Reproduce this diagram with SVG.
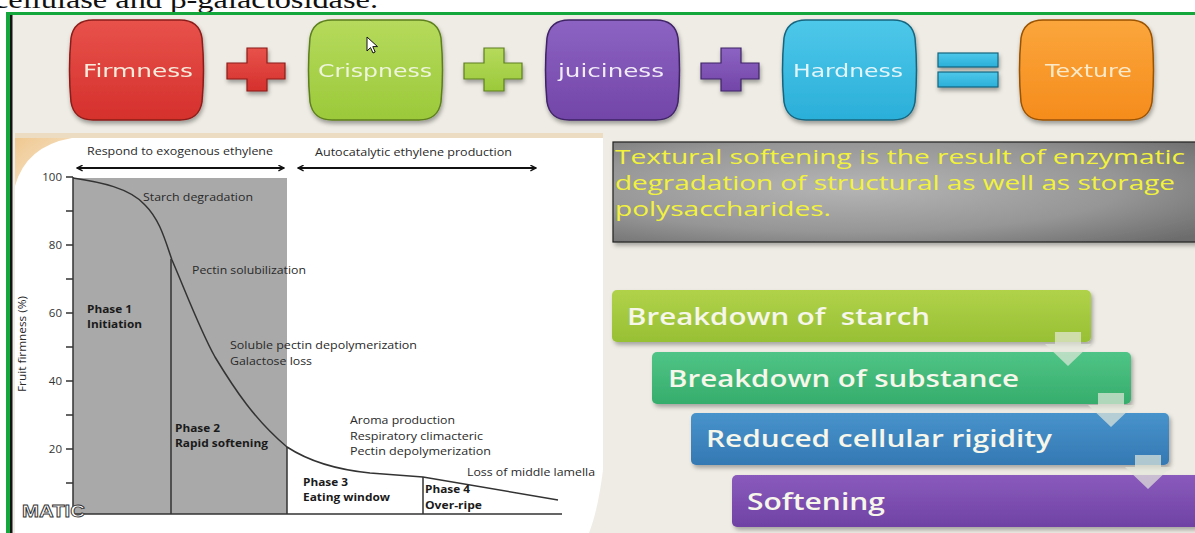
<svg xmlns="http://www.w3.org/2000/svg" width="1195" height="533" viewBox="0 0 1195 533">
<defs>
<style>
.pilltxt{font-family:"DejaVu Sans",Verdana,sans-serif;font-size:18px;}
.ct{font-family:"Open Sans","Liberation Sans",sans-serif;font-size:11px;fill:#2a2a2a;}
.cb{font-family:"Open Sans","Liberation Sans",sans-serif;font-size:11px;font-weight:bold;fill:#1a1a1a;}
.ax{stroke:#333;stroke-width:1.5;fill:none;}
.yt{font-family:"Open Sans","Liberation Sans",sans-serif;font-size:11.5px;fill:#333;text-anchor:end;}
.boxt{font-family:"Open Sans","Liberation Sans",sans-serif;font-size:23px;font-weight:600;fill:#f6f6ea;}
.yel{font-family:"Open Sans","Liberation Sans",sans-serif;font-size:20px;fill:#f2f23c;}
.flow{fill:#e4e8dc;fill-opacity:0.7;}
</style>
<filter id="sh" x="-10%" y="-10%" width="125%" height="140%"><feDropShadow dx="1" dy="3" stdDeviation="2" flood-color="#000" flood-opacity="0.35"/></filter>
<filter id="sh2" x="-5%" y="-10%" width="115%" height="140%"><feDropShadow dx="2" dy="3" stdDeviation="2" flood-color="#000" flood-opacity="0.3"/></filter>
<linearGradient id="gRed" x1="0" y1="0" x2="0" y2="1"><stop offset="0" stop-color="#e8524b"/><stop offset="1" stop-color="#d5302c"/></linearGradient>
<linearGradient id="gGrn" x1="0" y1="0" x2="0" y2="1"><stop offset="0" stop-color="#b6da5c"/><stop offset="1" stop-color="#9bc93a"/></linearGradient>
<linearGradient id="gPur" x1="0" y1="0" x2="0" y2="1"><stop offset="0" stop-color="#8c63c2"/><stop offset="1" stop-color="#7245a8"/></linearGradient>
<linearGradient id="gBlu" x1="0" y1="0" x2="0" y2="1"><stop offset="0" stop-color="#4ec8ea"/><stop offset="1" stop-color="#2aafd9"/></linearGradient>
<linearGradient id="gOrg" x1="0" y1="0" x2="0" y2="1"><stop offset="0" stop-color="#fba63c"/><stop offset="1" stop-color="#f58c1c"/></linearGradient>
<linearGradient id="b1" x1="0" y1="0" x2="0" y2="1"><stop offset="0" stop-color="#b0d24a"/><stop offset="1" stop-color="#98c034"/></linearGradient>
<linearGradient id="b2" x1="0" y1="0" x2="0" y2="1"><stop offset="0" stop-color="#4fc486"/><stop offset="1" stop-color="#36ad6c"/></linearGradient>
<linearGradient id="b3" x1="0" y1="0" x2="0" y2="1"><stop offset="0" stop-color="#4893cb"/><stop offset="1" stop-color="#3479b3"/></linearGradient>
<linearGradient id="b4" x1="0" y1="0" x2="0" y2="1"><stop offset="0" stop-color="#8a5bbc"/><stop offset="1" stop-color="#6f42a4"/></linearGradient>
<radialGradient id="gGray" cx="0.4" cy="0.45" r="0.75"><stop offset="0" stop-color="#b5b5b5"/><stop offset="0.6" stop-color="#969696"/><stop offset="1" stop-color="#6c6c6c"/></radialGradient>
<linearGradient id="tan" x1="0" y1="0" x2="1" y2="1"><stop offset="0" stop-color="#efc890"/><stop offset="1" stop-color="#f8ead6"/></linearGradient>
<path id="pill" d="M25 0 H112 Q131 0 134 18 Q137 50 134 82 Q131 100 112 100 H25 Q6 100 3 82 Q0 50 3 18 Q6 0 25 0 Z"/>
<path id="plus" d="M20 0 H40 V15 H58 V31 H40 V43 H20 V31 H0 V15 H20 Z"/>
<marker id="ah" viewBox="0 0 10 10" refX="9" refY="5" markerWidth="7" markerHeight="7" orient="auto-start-reverse" markerUnits="userSpaceOnUse"><path d="M1 1 L9 5 L1 9" fill="none" stroke="#111" stroke-width="2"/></marker>
</defs>

<rect width="1195" height="533" fill="#ffffff"/>
<text x="-6" y="8" font-family="Liberation Serif, serif" font-size="26" textLength="384" lengthAdjust="spacingAndGlyphs" fill="#111">cellulase and β-galactosidase.</text>
<rect x="6" y="12" width="1189" height="521" fill="#eeece4"/>
<rect x="6" y="12" width="1189" height="3" fill="#14a83c"/>
<rect x="6" y="12" width="4" height="521" fill="#14a83c"/>
<rect x="10" y="15" width="2.5" height="518" fill="#151515"/>

<!-- top equation -->
<g id="firmness" filter="url(#sh)"><use href="#pill" transform="translate(68,20)" fill="url(#gRed)" stroke="#8c1d1a" stroke-width="1.5"/><text class="pilltxt" x="83" y="77" textLength="110" lengthAdjust="spacingAndGlyphs" fill="#f6ecdc">Firmness</text></g>
<g id="plus1" filter="url(#sh)"><use href="#plus" transform="translate(227,48)" fill="url(#gRed)" stroke="#8c1d1a" stroke-width="1.2"/></g>
<g id="crispness" filter="url(#sh)"><use href="#pill" transform="translate(307,20)" fill="url(#gGrn)" stroke="#5d7f1e" stroke-width="1.5"/><text class="pilltxt" x="318" y="77" textLength="114" lengthAdjust="spacingAndGlyphs" fill="#eef5dc">Crispness</text></g>
<g id="plus2" filter="url(#sh)"><use href="#plus" transform="translate(464,48)" fill="url(#gGrn)" stroke="#5d7f1e" stroke-width="1.2"/></g>
<g id="juiciness" filter="url(#sh)"><use href="#pill" transform="translate(544,20)" fill="url(#gPur)" stroke="#3f2466" stroke-width="1.5"/><text class="pilltxt" x="558" y="77" textLength="106" lengthAdjust="spacingAndGlyphs" fill="#f1ebf8">juiciness</text></g>
<g id="plus3" filter="url(#sh)"><use href="#plus" transform="translate(701,48)" fill="url(#gPur)" stroke="#3f2466" stroke-width="1.2"/></g>
<g id="hardness" filter="url(#sh)"><use href="#pill" transform="translate(781,20)" fill="url(#gBlu)" stroke="#17657f" stroke-width="1.5"/><text class="pilltxt" x="793" y="77" textLength="110" lengthAdjust="spacingAndGlyphs" fill="#e2f5fb">Hardness</text></g>
<g id="equals" filter="url(#sh)"><rect x="938" y="53" width="60" height="14" fill="url(#gBlu)" stroke="#17657f" stroke-width="1.2"/><rect x="938" y="72" width="60" height="15" fill="url(#gBlu)" stroke="#17657f" stroke-width="1.2"/></g>
<g id="texture" filter="url(#sh)"><use href="#pill" transform="translate(1018,20)" fill="url(#gOrg)" stroke="#9a5200" stroke-width="1.5"/><text class="pilltxt" x="1045" y="77" textLength="87" lengthAdjust="spacingAndGlyphs" fill="#fbe9c8">Texture</text></g>
<path id="cursor" d="M367 37 L367 51 L370.5 47.6 L373 53 L375.2 52 L372.8 46.6 L377.5 46.6 Z" fill="#fff" stroke="#111" stroke-width="1"/>

<!-- chart panel -->
<g id="chart">
<rect x="15" y="133" width="588" height="5" fill="#ecdcc2"/>
<path d="M15 138 H603 V470 Q598 510 589 533 H15 Z" fill="#ffffff"/>
<path d="M15 138 L72 138 Q26 146 15 186 Z" fill="url(#tan)"/>
<rect x="73" y="178" width="214" height="336" fill="#a9a9a9"/>
<path d="M73 178 C100 182,130 188,145 205 C160 220,165 240,172 260 C185 290,200 330,215 357 C235 390,255 420,287 447 C310 462,340 470,370 473 L423 477 L558 500" fill="none" stroke="#333" stroke-width="1.5"/>
<line x1="171" y1="259" x2="171" y2="514" stroke="#333" stroke-width="1.5"/>
<line x1="287" y1="447" x2="287" y2="514" stroke="#333" stroke-width="1.5"/>
<line x1="423" y1="477" x2="423" y2="514" stroke="#333" stroke-width="1.5"/>
<path class="ax" d="M73 177 V514 H562"/>
<path class="ax" d="M66 177 H73 M66 211 H73 M66 245 H73 M66 279 H73 M66 313 H73 M66 347 H73 M66 381 H73 M66 415 H73 M66 449 H73 M66 483 H73"/>
<text class="yt" x="62" y="181">100</text>
<text class="yt" x="62" y="249">80</text>
<text class="yt" x="62" y="317">60</text>
<text class="yt" x="62" y="385">40</text>
<text class="yt" x="62" y="453">20</text>
<text class="ct" transform="translate(26,344) rotate(-90)" text-anchor="middle" textLength="96" lengthAdjust="spacingAndGlyphs">Fruit firmness (%)</text>
<line x1="77" y1="168" x2="284" y2="168" stroke="#111" stroke-width="2" marker-start="url(#ah)" marker-end="url(#ah)"/>
<line x1="298" y1="168" x2="536" y2="168" stroke="#111" stroke-width="2" marker-start="url(#ah)" marker-end="url(#ah)"/>
<text class="ct" x="87" y="155" textLength="186" lengthAdjust="spacingAndGlyphs">Respond to exogenous ethylene</text>
<text class="ct" x="315" y="156" textLength="197" lengthAdjust="spacingAndGlyphs">Autocatalytic ethylene production</text>
<text class="ct" x="143" y="201" textLength="110" lengthAdjust="spacingAndGlyphs">Starch degradation</text>
<text class="ct" x="192" y="274" textLength="114" lengthAdjust="spacingAndGlyphs">Pectin solubilization</text>
<text class="cb" x="87" y="313" textLength="45" lengthAdjust="spacingAndGlyphs">Phase 1</text>
<text class="cb" x="87" y="328" textLength="55" lengthAdjust="spacingAndGlyphs">Initiation</text>
<text class="ct" x="230" y="349" textLength="187" lengthAdjust="spacingAndGlyphs">Soluble pectin depolymerization</text>
<text class="ct" x="230" y="365" textLength="82" lengthAdjust="spacingAndGlyphs">Galactose loss</text>
<text class="cb" x="175" y="432" textLength="45" lengthAdjust="spacingAndGlyphs">Phase 2</text>
<text class="cb" x="175" y="447" textLength="93" lengthAdjust="spacingAndGlyphs">Rapid softening</text>
<text class="ct" x="350" y="424" textLength="105" lengthAdjust="spacingAndGlyphs">Aroma production</text>
<text class="ct" x="350" y="440" textLength="133" lengthAdjust="spacingAndGlyphs">Respiratory climacteric</text>
<text class="ct" x="350" y="455" textLength="141" lengthAdjust="spacingAndGlyphs">Pectin depolymerization</text>
<text class="ct" x="467" y="476" textLength="128" lengthAdjust="spacingAndGlyphs">Loss of middle lamella</text>
<text class="cb" x="303" y="486" textLength="45" lengthAdjust="spacingAndGlyphs">Phase 3</text>
<text class="cb" x="303" y="501" textLength="87" lengthAdjust="spacingAndGlyphs">Eating window</text>
<text class="cb" x="425" y="493" textLength="45" lengthAdjust="spacingAndGlyphs">Phase 4</text>
<text class="cb" x="425" y="509" textLength="57" lengthAdjust="spacingAndGlyphs">Over-ripe</text>
<text x="22" y="517" font-family="Liberation Sans, sans-serif" font-weight="bold" font-size="16" fill="#ffffff" stroke="#333" stroke-width="0.8" textLength="63" lengthAdjust="spacingAndGlyphs">MATIC</text>
</g>

<!-- text box -->
<g id="textbox">
<rect x="613" y="142" width="600" height="100" fill="url(#gGray)" stroke="#222" stroke-width="1.2" filter="url(#sh2)"/>
<text class="yel" x="615" y="164" textLength="570" lengthAdjust="spacingAndGlyphs">Textural softening is the result of enzymatic</text>
<text class="yel" x="615" y="190" textLength="560" lengthAdjust="spacingAndGlyphs">degradation of structural as well as storage</text>
<text class="yel" x="615" y="216" textLength="216" lengthAdjust="spacingAndGlyphs">polysaccharides.</text>
</g>

<!-- process -->
<g id="step1"><rect x="612" y="290" width="479" height="52" rx="5" fill="url(#b1)" filter="url(#sh2)"/><text class="boxt" x="627" y="325" textLength="303" lengthAdjust="spacingAndGlyphs" xml:space="preserve">Breakdown of  starch</text></g>
<g id="step2"><rect x="652" y="352" width="479" height="52" rx="5" fill="url(#b2)" filter="url(#sh2)"/><text class="boxt" x="668" y="387" textLength="351" lengthAdjust="spacingAndGlyphs">Breakdown of substance</text></g>
<g id="step3"><rect x="691" y="413" width="478" height="52" rx="5" fill="url(#b3)" filter="url(#sh2)"/><text class="boxt" x="706" y="447" textLength="346" lengthAdjust="spacingAndGlyphs">Reduced cellular rigidity</text></g>
<g id="step4"><rect x="732" y="475" width="480" height="52" rx="5" fill="url(#b4)" filter="url(#sh2)"/><text class="boxt" x="747" y="510" textLength="138" lengthAdjust="spacingAndGlyphs">Softening</text></g>
<g id="connectors">
<path class="flow" d="M1055 332 H1081 V344 H1091 L1068 366 L1045 344 H1055 Z"/>
<path class="flow" d="M1098 393 H1124 V405 H1134 L1111 427 L1088 405 H1098 Z"/>
<path class="flow" d="M1135 455 H1161 V467 H1171 L1148 489 L1125 467 H1135 Z"/>
</g>
</svg>
